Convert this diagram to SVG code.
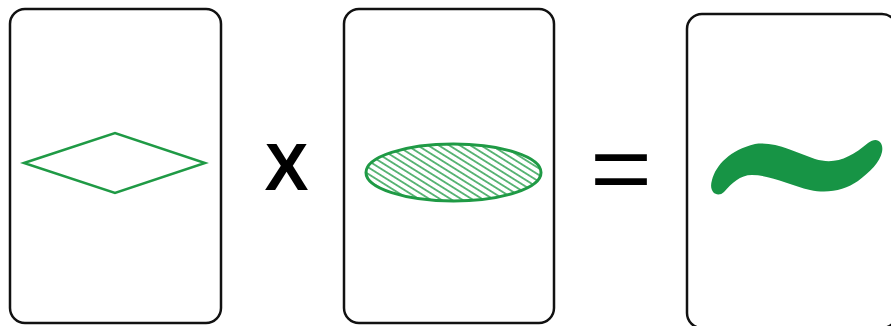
<svg xmlns="http://www.w3.org/2000/svg" width="891" height="326" viewBox="0 0 891 326">
  <style>
    .card { fill: #ffffff; stroke: #111111; stroke-width: 2.5; }
    .op { font-family: "Liberation Sans", Arial, sans-serif; fill: #000000; text-anchor: middle; }
  </style>
  <defs>
    <pattern id="hatch" patternUnits="userSpaceOnUse" width="10" height="5.6" patternTransform="rotate(32)">
      <line x1="0" y1="2.8" x2="10" y2="2.8" stroke="#1f9a45" stroke-width="1.4"/>
    </pattern>
  </defs>
  <rect width="891" height="326" fill="#ffffff"/>
  <g id="card-rhombus">
    <rect class="card" x="10" y="9" width="211" height="314" rx="15" ry="15"/>
    <polygon points="24,163 115,133 205,163 115,193" fill="none" stroke="#1f9a45" stroke-width="2.5" stroke-linejoin="miter"/>
  </g>
  <g id="op-times">
    <text class="op" x="286.5" y="190" font-size="66" font-weight="bold">X</text>
  </g>
  <g id="card-ellipse">
    <rect class="card" x="344" y="9" width="210" height="314" rx="15" ry="15"/>
    <ellipse cx="453.5" cy="172.5" rx="87.5" ry="28.5" fill="url(#hatch)" stroke="#1f9a45" stroke-width="3"/>
  </g>
  <g id="op-equals">
    <text class="op" x="0" y="201" font-size="95" transform="translate(621,0) scale(1.12,1)">=</text>
  </g>
  <g id="card-tilde">
    <rect class="card" x="687" y="14" width="210" height="314" rx="15" ry="15"/>
    <path d="M712,180 C716,165 730,150 755,144 C775,141 795,152 815,159 C835,165 850,158 868,143 C877,136 884,142 882,152 C880,162 870,172 858,181 C845,190 828,194 810,190 C790,185 770,175 752,175 C740,175 732,183 724,192 C718,198 708,193 712,180 Z" fill="#179445"/>
  </g>
  <g id="connectors"></g>
</svg>
